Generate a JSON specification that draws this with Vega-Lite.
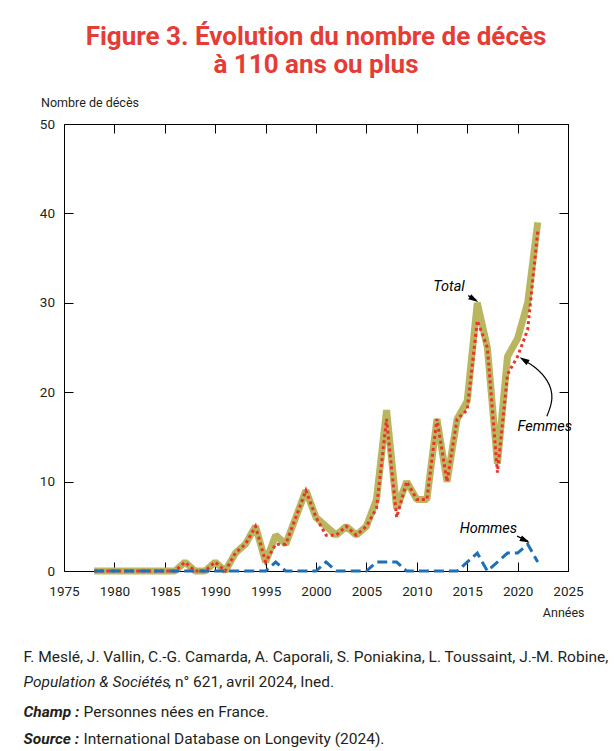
{
  "$schema": "https://vega.github.io/schema/vega-lite/v6.json",
  "background": "white",
  "padding": {"left": 23, "top": 24, "right": 4, "bottom": 4},
  "width": 504,
  "height": 447,
  "title": {
    "text": ["Figure 3. Évolution du nombre de décès", "à 110 ans ou plus"],
    "color": "#e63c36",
    "font": "Roboto",
    "fontSize": 26,
    "fontWeight": "bold",
    "lineHeight": 28,
    "anchor": "middle",
    "frame": "group",
    "offset": 18
  },
  "datasets": {
    "deces": [
      {"year": 1978, "total": 0, "femmes": 0, "hommes": 0},
      {"year": 1979, "total": 0, "femmes": 0, "hommes": 0},
      {"year": 1980, "total": 0, "femmes": 0, "hommes": 0},
      {"year": 1981, "total": 0, "femmes": 0, "hommes": 0},
      {"year": 1982, "total": 0, "femmes": 0, "hommes": 0},
      {"year": 1983, "total": 0, "femmes": 0, "hommes": 0},
      {"year": 1984, "total": 0, "femmes": 0, "hommes": 0},
      {"year": 1985, "total": 0, "femmes": 0, "hommes": 0},
      {"year": 1986, "total": 0, "femmes": 0, "hommes": 0},
      {"year": 1987, "total": 1, "femmes": 1, "hommes": 0},
      {"year": 1988, "total": 0, "femmes": 0, "hommes": 0},
      {"year": 1989, "total": 0, "femmes": 0, "hommes": 0},
      {"year": 1990, "total": 1, "femmes": 1, "hommes": 0},
      {"year": 1991, "total": 0, "femmes": 0, "hommes": 0},
      {"year": 1992, "total": 2, "femmes": 2, "hommes": 0},
      {"year": 1993, "total": 3, "femmes": 3, "hommes": 0},
      {"year": 1994, "total": 5, "femmes": 5, "hommes": 0},
      {"year": 1995, "total": 1, "femmes": 1, "hommes": 0},
      {"year": 1996, "total": 4, "femmes": 3, "hommes": 1},
      {"year": 1997, "total": 3, "femmes": 3, "hommes": 0},
      {"year": 1998, "total": 6, "femmes": 6, "hommes": 0},
      {"year": 1999, "total": 9, "femmes": 9, "hommes": 0},
      {"year": 2000, "total": 6, "femmes": 6, "hommes": 0},
      {"year": 2001, "total": 5, "femmes": 4, "hommes": 1},
      {"year": 2002, "total": 4, "femmes": 4, "hommes": 0},
      {"year": 2003, "total": 5, "femmes": 5, "hommes": 0},
      {"year": 2004, "total": 4, "femmes": 4, "hommes": 0},
      {"year": 2005, "total": 5, "femmes": 5, "hommes": 0},
      {"year": 2006, "total": 8, "femmes": 7, "hommes": 1},
      {"year": 2007, "total": 18, "femmes": 17, "hommes": 1},
      {"year": 2008, "total": 7, "femmes": 6, "hommes": 1},
      {"year": 2009, "total": 10, "femmes": 10, "hommes": 0},
      {"year": 2010, "total": 8, "femmes": 8, "hommes": 0},
      {"year": 2011, "total": 8, "femmes": 8, "hommes": 0},
      {"year": 2012, "total": 17, "femmes": 17, "hommes": 0},
      {"year": 2013, "total": 10, "femmes": 10, "hommes": 0},
      {"year": 2014, "total": 17, "femmes": 17, "hommes": 0},
      {"year": 2015, "total": 19, "femmes": 18, "hommes": 1},
      {"year": 2016, "total": 30, "femmes": 28, "hommes": 2},
      {"year": 2017, "total": 25, "femmes": 25, "hommes": 0},
      {"year": 2018, "total": 12, "femmes": 11, "hommes": 1},
      {"year": 2019, "total": 24, "femmes": 22, "hommes": 2},
      {"year": 2020, "total": 26, "femmes": 24, "hommes": 2},
      {"year": 2021, "total": 30, "femmes": 27, "hommes": 3},
      {"year": 2022, "total": 39, "femmes": 38, "hommes": 1}
    ],
    "labels": [
      {"label": "Total", "year": 2013.2, "value": 31.8},
      {"label": "Femmes", "year": 2022.7, "value": 16.1},
      {"label": "Hommes", "year": 2017.1, "value": 4.7}
    ],
    "shafts": [
      {"arrow": "Total", "order": 1, "year": 2015.1, "value": 30.8},
      {"arrow": "Total", "order": 2, "year": 2015.9, "value": 30.3},
      {"arrow": "Femmes", "order": 1, "year": 2022.9, "value": 17.3},
      {"arrow": "Femmes", "order": 2, "year": 2023.6, "value": 19.3},
      {"arrow": "Femmes", "order": 3, "year": 2023.1, "value": 21.3},
      {"arrow": "Femmes", "order": 4, "year": 2021.7, "value": 22.9},
      {"arrow": "Femmes", "order": 5, "year": 2020.7, "value": 23.5},
      {"arrow": "Hommes", "order": 1, "year": 2019.95, "value": 3.9},
      {"arrow": "Hommes", "order": 2, "year": 2021.0, "value": 3.35}
    ],
    "heads": [
      {"arrow": "Total", "year": 2016.1, "value": 30.1},
      {"arrow": "Femmes", "year": 2020.2, "value": 23.9},
      {"arrow": "Hommes", "year": 2021.2, "value": 3.2}
    ]
  },
  "layer": [
    {
      "data": {"name": "deces"},
      "mark": {"type": "line", "color": "#bab55f", "strokeWidth": 7, "strokeJoin": "bevel", "strokeCap": "butt"},
      "encoding": {
        "x": {"field": "year", "type": "quantitative", "scale": {"domain": [1975, 2025], "nice": false, "zero": false},
          "axis": {"orient": "bottom", "values": [1975, 1980, 1985, 1990, 1995, 2000, 2005, 2010, 2015, 2020, 2025], "format": "d",
            "labelFlush": false, "labelOverlap": false, "labelBound": false,
            "tickSize": -9, "labelPadding": 22, "title": "Années", "titleAlign": "right", "titleX": 520, "titleY": 41, "titleBaseline": "middle"}},
        "y": {"field": "total", "type": "quantitative", "scale": {"domain": [0, 50], "nice": false},
          "axis": {"orient": "left", "values": [0, 10, 20, 30, 40, 50], "tickSize": -9, "labelPadding": 18.5,
            "labelFlush": false, "labelOverlap": false, "labelBound": false,
            "title": "Nombre de décès", "titleAngle": 0, "titleAlign": "left", "titleBaseline": "middle", "titleX": -23.5, "titleY": -22}}
      }
    },
    {
      "data": {"name": "deces"},
      "mark": {"type": "line", "color": "#e8352c", "strokeWidth": 3, "strokeDash": [3, 3], "strokeCap": "butt"},
      "encoding": {
        "x": {"field": "year", "type": "quantitative", "scale": {"domain": [1975, 2025], "nice": false, "zero": false},
          "axis": {"orient": "top", "values": [1975, 1980, 1985, 1990, 1995, 2000, 2005, 2010, 2015, 2020, 2025], "tickSize": -9, "labels": false,
            "title": "F. Meslé, J. Vallin, C.-G. Camarda, A. Caporali, S. Poniakina, L. Toussaint, J.-M. Robine,",
            "titleFontSize": 15.5, "titleAngle": 0, "titleAlign": "left", "titleBaseline": "top", "titleX": -41, "titleY": 525}},
        "y": {"field": "femmes", "type": "quantitative", "scale": {"domain": [0, 50], "nice": false},
          "axis": {"orient": "right", "values": [0, 10, 20, 30, 40, 50], "tickSize": -9, "labels": false,
            "title": "Population & Sociétés", "titleFontStyle": "italic",
            "titleFontSize": 15.5, "titleAngle": 0, "titleAlign": "left", "titleBaseline": "top", "titleX": -545, "titleY": 550}}
      }
    },
    {
      "data": {"name": "deces"},
      "mark": {"type": "line", "color": "#1f6fb6", "strokeWidth": 3, "strokeDash": [10, 5], "strokeCap": "butt"},
      "encoding": {
        "x": {"field": "year", "type": "quantitative", "scale": {"domain": [1975, 2025], "nice": false, "zero": false},
          "axis": {"orient": "bottom", "ticks": false, "labels": false, "domain": false, "grid": false,
            "title": ", n° 621, avril 2024, Ined.",
            "titleFontSize": 15.5, "titleAngle": 0, "titleAlign": "left", "titleBaseline": "top", "titleX": 103.5, "titleY": 103}},
        "y": {"field": "hommes", "type": "quantitative", "scale": {"domain": [0, 50], "nice": false},
          "axis": {"orient": "left", "ticks": false, "labels": false, "domain": false, "grid": false,
            "title": ["Champ :", "Source :"], "titleFontStyle": "italic", "titleFontWeight": "bold", "titleLineHeight": 27,
            "titleFontSize": 15.5, "titleAngle": 0, "titleAlign": "left", "titleBaseline": "top", "titleX": -41, "titleY": 580.3}}
      }
    },
    {
      "data": {"name": "shafts"},
      "mark": {"type": "line", "color": "black", "strokeWidth": 1.2, "interpolate": "basis"},
      "encoding": {
        "x": {"field": "year", "type": "quantitative", "scale": {"domain": [1975, 2025], "nice": false, "zero": false},
          "axis": {"orient": "top", "ticks": false, "labels": false, "domain": false, "grid": false,
            "title": ["Personnes nées en France.", "International Database on Longevity (2024)."], "titleLineHeight": 27,
            "titleFontSize": 15.5, "titleAngle": 0, "titleAlign": "left", "titleBaseline": "top", "titleX": 19, "titleY": 580.3}},
        "y": {"field": "value", "type": "quantitative", "scale": {"domain": [0, 50], "nice": false}, "axis": null},
        "detail": {"field": "arrow"},
        "order": {"field": "order"}
      }
    },
    {
      "data": {"name": "heads"},
      "transform": [{"filter": "datum.arrow === 'Total'"}],
      "mark": {"type": "point", "shape": "M0,0L-2,-0.6L-2,0.6Z", "angle": 31, "filled": true, "color": "black", "opacity": 1, "size": 100, "strokeWidth": 0},
      "encoding": {
        "x": {"field": "year", "type": "quantitative", "scale": {"domain": [1975, 2025], "nice": false, "zero": false}, "axis": null},
        "y": {"field": "value", "type": "quantitative", "scale": {"domain": [0, 50], "nice": false}, "axis": null}
      }
    },
    {
      "data": {"name": "heads"},
      "transform": [{"filter": "datum.arrow === 'Femmes'"}],
      "mark": {"type": "point", "shape": "M0,0L-2,-0.6L-2,0.6Z", "angle": 212, "filled": true, "color": "black", "opacity": 1, "size": 100, "strokeWidth": 0},
      "encoding": {
        "x": {"field": "year", "type": "quantitative", "scale": {"domain": [1975, 2025], "nice": false, "zero": false}, "axis": null},
        "y": {"field": "value", "type": "quantitative", "scale": {"domain": [0, 50], "nice": false}, "axis": null}
      }
    },
    {
      "data": {"name": "heads"},
      "transform": [{"filter": "datum.arrow === 'Hommes'"}],
      "mark": {"type": "point", "shape": "M0,0L-2,-0.6L-2,0.6Z", "angle": 25, "filled": true, "color": "black", "opacity": 1, "size": 100, "strokeWidth": 0},
      "encoding": {
        "x": {"field": "year", "type": "quantitative", "scale": {"domain": [1975, 2025], "nice": false, "zero": false}, "axis": null},
        "y": {"field": "value", "type": "quantitative", "scale": {"domain": [0, 50], "nice": false}, "axis": null}
      }
    },
    {
      "data": {"name": "labels"},
      "mark": {"type": "text", "font": "Roboto", "fontStyle": "italic", "fontSize": 14.5, "color": "black", "align": "center", "baseline": "middle"},
      "encoding": {
        "x": {"field": "year", "type": "quantitative", "scale": {"domain": [1975, 2025], "nice": false, "zero": false}, "axis": null},
        "y": {"field": "value", "type": "quantitative", "scale": {"domain": [0, 50], "nice": false}, "axis": null},
        "text": {"field": "label"}
      }
    }
  ],
  "resolve": {"axis": {"x": "independent", "y": "independent"}},
  "config": {
    "view": {"stroke": "black", "strokeWidth": 1},
    "axis": {
      "domain": false,
      "grid": false,
      "tickColor": "black",
      "tickWidth": 1,
      "labelFont": "Roboto",
      "labelFontSize": 13.5,
      "labelColor": "#231f20",
      "titleFont": "Roboto",
      "titleFontSize": 12.5,
      "titleFontWeight": "normal",
      "titleColor": "#231f20"
    }
  }
}
